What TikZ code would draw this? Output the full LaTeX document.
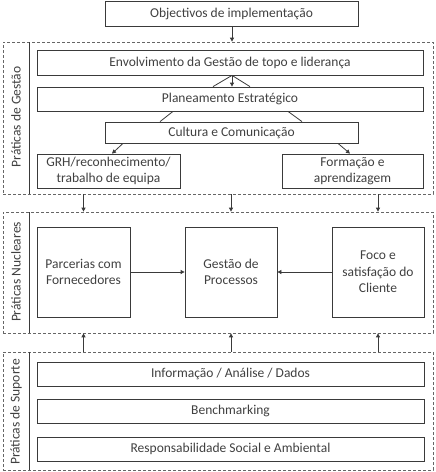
\documentclass[tikz,border=0pt]{standalone}
\usepackage{fontspec}
\setmainfont{Carlito}
\usetikzlibrary{arrows.meta}
\definecolor{txt}{HTML}{404040}
\definecolor{edge}{HTML}{3A3A3A}
\begin{document}
\begin{tikzpicture}[x=1pt,y=-1pt,
  box/.style={draw=edge,line width=0.8pt,rectangle,inner sep=0pt,text=txt,align=center,
    font=\fontsize{13.5}{16.5}\selectfont},
  group/.style={draw=gray!80!black,line width=0.7pt,dash pattern=on 3pt off 2pt,rectangle,inner sep=0pt,minimum width=430pt},
  glabel/.style={rotate=90,text=txt,font=\fontsize{13.5}{16.5}\selectfont},
  arr/.style={draw=edge,line width=0.8pt,-{Triangle[length=4pt,width=4pt]}},
  ln/.style={draw=edge,line width=0.8pt}]
\useasboundingbox (0,0) rectangle (436,472);
% groups
\node[group,minimum height=152pt] (gest) at (218,118) {};
\node[group,minimum height=121pt] (nuc) at (218,272.5) {};
\node[group,minimum height=118pt] (sup) at (218,411) {};
\draw[ln] (29,42) -- (29,194);
\draw[ln] (29,212) -- (29,333);
\draw[ln] (29,352) -- (29,470);
\node[glabel] (lg) at (16,117) {Práticas de Gestão};
\node[glabel] (ln) at (16,272) {Práticas Nucleares};
\node[glabel] (ls) at (16,412) {Práticas de Suporte};
% top
\node[box,minimum width=253pt,minimum height=25pt] (obj) at (231.5,13.5) {Objectivos de implementação};
% gestao
\node[box,minimum width=386pt,minimum height=25pt] (env) at (230,62.5) {Envolvimento da Gestão de topo e liderança};
\node[box,minimum width=386pt,minimum height=24pt] (plan) at (230,99) {Planeamento Estratégico};
\node[box,minimum width=253pt,minimum height=21pt] (cult) at (231.5,132.5) {Cultura e Comunicação};
\node[box,minimum width=143pt,minimum height=34pt] (grh) at (108.5,171) {GRH/reconhecimento/\\trabalho de equipa};
\node[box,minimum width=141pt,minimum height=34pt] (form) at (352.5,171) {Formação e\\aprendizagem};
% nucleares
\node[box,minimum width=93pt,minimum height=90pt] (parc) at (83.5,272) {Parcerias com\\Fornecedores};
\node[box,minimum width=92pt,minimum height=90pt] (proc) at (231,272) {Gestão de\\Processos};
\node[box,minimum width=92pt,minimum height=90pt] (foco) at (378,272) {Foco e\\satisfação do\\Cliente};
% suporte
\node[box,minimum width=387pt,minimum height=24pt] (info) at (230.5,374) {Informação / Análise / Dados};
\node[box,minimum width=387pt,minimum height=24pt] (bench) at (230.5,411) {Benchmarking};
\node[box,minimum width=387pt,minimum height=24pt] (resp) at (230.5,449) {Responsabilidade Social e Ambiental};
% connectors
\draw[arr] (obj.south -| 232,0) -- (gest.north -| 232,0);
\draw[arr] (env.south -| 232,0) -- (plan.north -| 232,0);
\draw[ln] (env.south -| 232,0) -- (plan.north -| 213,0);
\draw[ln] (env.south -| 232,0) -- (plan.north -| 250,0);
\draw[ln] (plan.south -| 173,0) -- (cult.north -| 160,0);
\draw[ln] (plan.south -| 288,0) -- (cult.north -| 302,0);
\draw[arr] (cult.south -| 123,0) -- (grh.north -| 112,0);
\draw[arr] (cult.south -| 338,0) -- (form.north -| 350,0);
\foreach \n in {parc,proc,foco}{
  \draw[arr] (gest.south -| \n.center) -- (nuc.north -| \n.center);
  \draw[arr] (sup.north -| \n.center) -- (nuc.south -| \n.center);
}
\draw[arr] (parc.east) -- (proc.west);
\draw[arr] (foco.west) -- (proc.east);
\end{tikzpicture}
\end{document}
